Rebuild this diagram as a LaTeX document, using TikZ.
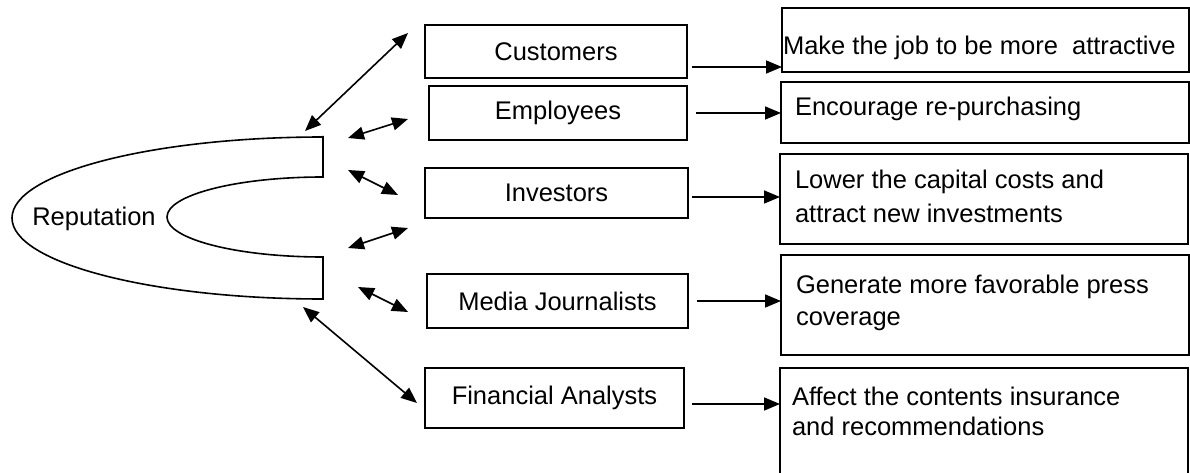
\documentclass[tikz,border=0pt]{standalone}
\usepackage{fontspec}
\setmainfont{Liberation Sans}
\usetikzlibrary{arrows.meta,calc}
\begin{document}
\begin{tikzpicture}[x=1pt,y=-1pt,
  every node/.style={font=\fontsize{25.5}{33}\selectfont, inner sep=0pt, outer sep=0pt},
  lbox/.style={draw, line width=1.6pt, rectangle},
  rbox/.style={draw, line width=1.6pt, rectangle},
  arr/.style={line width=1.6pt, -{Triangle[length=16pt,width=13pt]}},
  darr/.style={line width=1.6pt, {Triangle[length=16pt,width=13pt]}-{Triangle[length=16pt,width=13pt]}},
  rtext/.style={anchor=north west, align=left}
]
\useasboundingbox (0,0) rectangle (1190,473);

% horseshoe
\draw[line width=1.6pt] (323,136) -- (323,177)
  arc[start angle=270, end angle=90, x radius=156, y radius=40]
  -- (323,299)
  arc[start angle=90, end angle=270, x radius=311, y radius=81]
  -- cycle;
\node (rep) at (94,219) {Reputation};

% left boxes
\node[lbox, minimum width=262pt, minimum height=53pt] (cust) at (556,51.5) {Customers};
\node[lbox, minimum width=258pt, minimum height=54pt] (empl) at (558,113) {Employees};
\node[lbox, minimum width=263pt, minimum height=50pt] (inv) at (556.5,193) {Investors};
\node[lbox, minimum width=261pt, minimum height=54pt] (media) at (557.5,301) {Media Journalists};
\node[lbox, minimum width=259pt, minimum height=60pt] (fin) at (554.5,398) {Financial Analysts};

% right boxes
\node[rbox, minimum width=407pt, minimum height=64pt] (r1) at (985.5,40) {};
\node[rbox, minimum width=408pt, minimum height=61pt] (r2) at (985,112.5) {};
\node[rbox, minimum width=408pt, minimum height=90pt] (r3) at (984,199) {};
\node[rbox, minimum width=408pt, minimum height=100pt] (r4) at (985,305) {};
\node[rbox, minimum width=408pt, minimum height=112pt] (r5) at (984,424) {};

% right texts
\node[anchor=base west] (t1) at (783,55) {Make the job to be more\ \ attractive};
\node[anchor=base west] (t2) at (795,116) {Encourage re-purchasing};
\node[rtext, font=\fontsize{25.5}{34.5}\selectfont] (t3) at (795,169.8) {Lower the capital costs and\\attract new investments};
\node[rtext, font=\fontsize{25.5}{32}\selectfont] (t4) at (796,274.8) {Generate more favorable press\\coverage};
\node[rtext, font=\fontsize{25.5}{30}\selectfont] (t5) at (792,387.3) {Affect the contents insurance\\and recommendations};

% arrows to right boxes
\draw[arr] ([xshift=5pt,yshift=-15.5pt]cust.east) -- ([yshift=-15.5pt]cust.east -| r1.west);
\draw[arr] ([xshift=9pt]empl.east) -- (empl.east -| r2.west);
\draw[arr] ([xshift=4pt,yshift=-4pt]inv.east) -- ([yshift=-4pt]inv.east -| r3.west);
\draw[arr] ([xshift=9pt]media.east) -- (media.east -| r4.west);
\draw[arr] ([xshift=8pt,yshift=-6pt]fin.east) -- ([yshift=-6pt]fin.east -| r5.west);

% double arrows between reputation and stakeholders
\coordinate (h1) at (305,131); \coordinate (s1) at (408,33);
\coordinate (h2) at (348,138); \coordinate (s2) at (408,119);
\coordinate (h3) at (348,170); \coordinate (s3) at (398,195);
\coordinate (h4) at (348,248); \coordinate (s4) at (408,228);
\coordinate (h5) at (358,287); \coordinate (s5) at (408,312);
\coordinate (h6) at (303,307); \coordinate (s6) at (417,403);
\draw[darr] (h1) -- (s1);
\draw[darr] (h2) -- (s2);
\draw[darr] (h3) -- (s3);
\draw[darr] (h4) -- (s4);
\draw[darr] (h5) -- (s5);
\draw[darr] (h6) -- (s6);
\end{tikzpicture}
\end{document}
